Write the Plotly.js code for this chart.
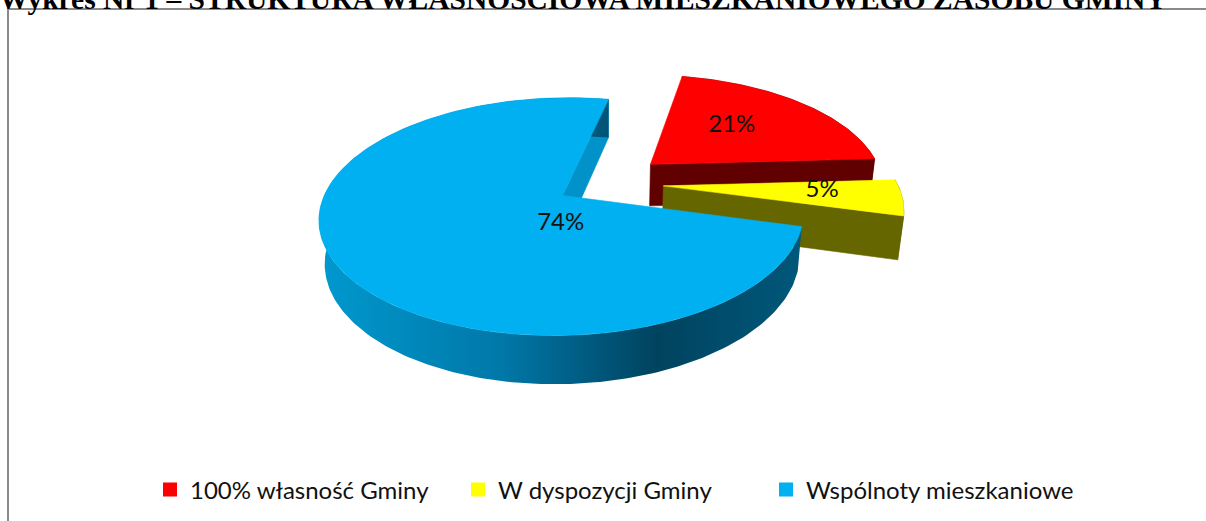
<!DOCTYPE html>
<html><head><meta charset="utf-8">
<script src="https://cdn.plot.ly/plotly-3.0.1.min.js"></script>
<style>html,body{margin:0;padding:0;background:#fff;overflow:hidden}#chart{width:1206px;height:521px}</style>
</head><body><div id="chart"></div>
<script>
// ---- data ----
const categories = ['100% własność Gminy', 'W dyspozycji Gminy', 'Wspólnoty mieszkaniowe'];
const shares = [21, 5, 74];
const chartTitle = 'Wykres Nr 1 – STRUKTURA WŁASNOŚCIOWA MIESZKANIOWEGO ZASOBU GMINY';

// ---- style ----
const topColors = ['#FF0000', '#FFFF00', '#00B0F0'];
const wallColors = ['#600000', '#666600', '#0092C9'];
const outerWallScales = [null, null, [[0, '#0099CF'], [0.38, '#0078A8'], [0.7, '#00435F'], [1, '#00587B']]];
const pull = [0.265, 0.25, 0.21];
const labelAt = [[45, 0.56], [94, 0.67], [180, 0.235]];
const view = {cx: 605, cy: 183, f: 1185, d: 5.07, tilt: 28.3, depth: 0.21, rotation: 11.3};

const rad = a => a * Math.PI / 180;
const sp = Math.sin(rad(view.tilt)), cp = Math.cos(rad(view.tilt));
function proj(X, Y, Z) {
  const yc = Y * cp + Z * sp, zc = view.d + Z * cp - Y * sp;
  return [view.cx + view.f * X / zc, view.cy - view.f * yc / zc];
}
const cam = {x: 0, z: -view.d * cp};
const total = shares.reduce((a, b) => a + b, 0);
let cum = 0;
const slices = shares.map((v, i) => {
  const a0 = view.rotation + cum / total * 360; cum += v;
  const a1 = view.rotation + cum / total * 360;
  const mid = (a0 + a1) / 2;
  return {i, a0, a1, mid, ox: pull[i] * Math.sin(rad(mid)), oz: pull[i] * Math.cos(rad(mid))};
});

function poly(pts, color, extra) {
  return Object.assign({
    type: 'scatter', mode: 'lines', x: pts.map(p => p[0]), y: pts.map(p => p[1]),
    fill: 'toself', fillcolor: color, line: {width: 0.6, color: color},
    hoverinfo: 'skip', showlegend: false
  }, extra || {});
}
function arc(s, a0, a1, Y) {
  const n = Math.max(4, Math.ceil(Math.abs(a1 - a0)));
  const pts = [];
  for (let k = 0; k <= n; k++) {
    const a = rad(a0 + (a1 - a0) * k / n);
    pts.push(proj(s.ox + Math.sin(a), Y, s.oz + Math.cos(a)));
  }
  return pts;
}

const traces = [];
const order = slices.slice().sort((p, q) =>
  (q.oz + 0.5 * Math.cos(rad(q.mid))) - (p.oz + 0.5 * Math.cos(rad(p.mid))));
order.forEach(s => {
  const H = -view.depth;
  // radial walls
  [[s.a0, s.a0 - 90], [s.a1, s.a1 + 90]].forEach(([a, na]) => {
    const nx = Math.sin(rad(na)), nz = Math.cos(rad(na));
    const dot = nx * (cam.x - s.ox) + nz * (cam.z - s.oz);
    if (dot > 0) {
      const rx = s.ox + Math.sin(rad(a)), rz = s.oz + Math.cos(rad(a));
      traces.push(poly([proj(s.ox, 0, s.oz), proj(rx, 0, rz), proj(rx, H, rz), proj(s.ox, H, s.oz), proj(s.ox, 0, s.oz)], wallColors[s.i]));
    }
  });
  // outer wall
  const wall = arc(s, s.a0, s.a1, 0).concat(arc(s, s.a1, s.a0, H));
  wall.push(wall[0]);
  if (outerWallScales[s.i]) {
    traces.push(poly(wall, wallColors[s.i], {line: {width: 0}, fillgradient: {type: 'horizontal', colorscale: outerWallScales[s.i]}}));
  } else {
    traces.push(poly(wall, wallColors[s.i]));
  }
  // top
  const top = [proj(s.ox, 0, s.oz)].concat(arc(s, s.a0, s.a1, 0));
  top.push(top[0]);
  traces.push(poly(top, topColors[s.i]));
});

// data labels
const lx = [], ly = [], lt = [];
slices.forEach(s => {
  const [ang, r] = labelAt[s.i];
  const p = proj(s.ox + r * Math.sin(rad(ang)), 0, s.oz + r * Math.cos(rad(ang)));
  lx.push(p[0]); ly.push(p[1]); lt.push(Math.round(shares[s.i] / total * 100) + '%');
});
traces.push({type: 'scatter', mode: 'text', x: lx, y: ly, text: lt, textposition: 'middle center',
  textfont: {family: 'Lato', size: 24, color: '#111'}, hoverinfo: 'skip', showlegend: false, cliponaxis: false});

// legend entries
categories.forEach((c, i) => traces.push({type: 'scatter', mode: 'markers', x: [null], y: [null], name: c,
  marker: {symbol: 'square', size: 14, color: topColors[i]}, showlegend: true, hoverinfo: 'skip'}));

const layout = {
  width: 1206, height: 521, margin: {l: 0, r: 0, t: 0, b: 0},
  paper_bgcolor: '#fff', plot_bgcolor: '#fff',
  xaxis: {range: [0, 1206], visible: false, fixedrange: true},
  yaxis: {range: [521, 0], visible: false, fixedrange: true},
  showlegend: true,
  legend: {orientation: 'h', x: 150 / 1206, xanchor: 'left', y: 31 / 521, yanchor: 'middle',
    font: {family: 'Lato', size: 24, color: '#111'}, entrywidth: 263, entrywidthmode: 'pixels',
    bgcolor: 'rgba(0,0,0,0)', traceorder: 'normal'},
  shapes: [{type: 'rect', xref: 'x', yref: 'y', x0: 8, y0: 9, x1: 1250, y1: 560,
    line: {color: '#8a8a8a', width: 2}, layer: 'below'}],
  annotations: [{text: '<b>' + chartTitle + '</b>', x: -3 / 1206, y: 1 - 17 / 521, xref: 'paper', yref: 'paper',
    xanchor: 'left', yanchor: 'bottom', showarrow: false,
    font: {family: 'Liberation Serif', size: 29.5, color: '#000'}}]
};
Plotly.newPlot('chart', traces, layout, {displayModeBar: false, staticPlot: true});
</script></body></html>
